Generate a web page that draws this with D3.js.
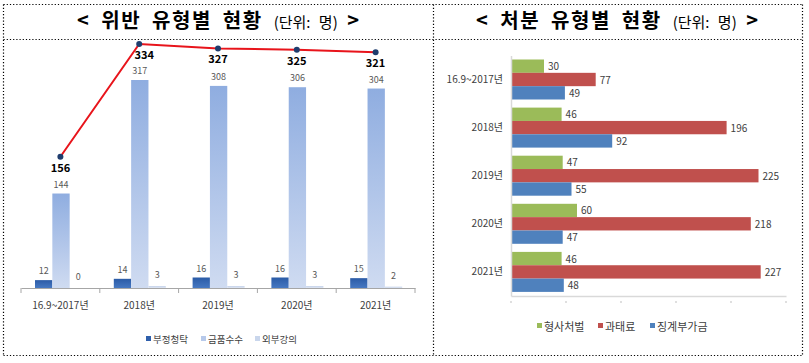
<!DOCTYPE html>
<html>
<head>
<meta charset="utf-8">
<script src="https://cdn.jsdelivr.net/npm/d3@7"></script>
<style>
	body { margin: 0; background: #fff; }
	text { font-family: "Noto Sans CJK KR", "Noto Sans", sans-serif; }
</style>
</head>
<body>
<svg id="chart" width="809" height="363"></svg>
<script>
// left chart: violations by type
const periods = ["16.9~2017년", "2018년", "2019년", "2020년", "2021년"];
const violationTypes = ["부정청탁", "금품수수", "외부강의"];
const solicit = [12, 14, 16, 16, 15];
const gifts = [144, 317, 308, 306, 304];
const lectures = [0, 3, 3, 3, 2];
const totals = [156, 334, 327, 325, 321];

// right chart: sanctions by type
const sanctionTypes = ["형사처벌", "과태료", "징계부가금"];
const criminal = [30, 46, 47, 60, 46];
const fines = [77, 196, 225, 218, 227];
const surcharge = [49, 92, 55, 47, 48];

const svg = d3.select("#chart");
const defs = svg.append("defs");

function grad(id, top, bottom) {
	let g = defs.append("linearGradient").attr("id", id)
		.attr("x1", 0).attr("y1", 0).attr("x2", 0).attr("y2", 1);
	g.append("stop").attr("offset", "0%").attr("stop-color", top);
	g.append("stop").attr("offset", "100%").attr("stop-color", bottom);
}
grad("g0", "#2b5ba6", "#4678c2");
grad("g1", "#8fade0", "#cfdbf1");
grad("g2", "#c3d1ea", "#dfe6f3");

// frame (dotted table lines)
const frame = svg.append("g").attr("stroke", "#000").attr("stroke-width", 1.2)
	.attr("stroke-dasharray", "1.2,2");
[[3.5, 4.5, 802.5, 4.5], [3.5, 39.5, 802.5, 39.5], [3.5, 355.5, 802.5, 355.5],
 [3.5, 4.5, 3.5, 355.5], [433.5, 4.5, 433.5, 355.5], [802.5, 4.5, 802.5, 355.5]]
	.forEach(l => frame.append("line").attr("x1", l[0]).attr("y1", l[1]).attr("x2", l[2]).attr("y2", l[3]));

function title(cx, main) {
	let t = svg.append("text").attr("x", cx).attr("y", 28).attr("text-anchor", "middle")
		.attr("fill", "#000").attr("word-spacing", 5);
	t.append("tspan").attr("font-size", 20).attr("font-weight", "bold")
		.attr("letter-spacing", 1.5).text("< " + main + " ");
	t.append("tspan").attr("font-size", 15).text("(단위: 명)");
	t.append("tspan").attr("font-size", 20).attr("font-weight", "bold").text(" >");
}
title(218, "위반 유형별 현황");
title(617, "처분 유형별 현황");

// ---- left chart ----
const x = d3.scaleBand().domain(periods).range([21, 415]);
const x1 = d3.scaleBand().domain(violationTypes).range([14, 66]);
const y = d3.scaleLinear().domain([0, 317]).range([288, 80]);
const yLine = d3.scaleLinear().domain([0, 340]).range([255.5, 40.2]);

const seriesL = [solicit, gifts, lectures];
const left = svg.append("g");

seriesL.forEach((vals, si) => {
	let g = left.append("g");
	g.selectAll("rect").data(vals).enter().append("rect")
		.attr("x", (d, i) => x(periods[i]) + x1(violationTypes[si]))
		.attr("width", x1.bandwidth())
		.attr("y", d => y(d))
		.attr("height", d => y(0) - y(d))
		.attr("fill", "url(#g" + si + ")");
	g.selectAll("text").data(vals).enter().append("text")
		.attr("x", (d, i) => x(periods[i]) + x1(violationTypes[si]) + x1.bandwidth() / 2)
		.attr("y", d => y(d) - (d < 10 ? 8 : 6))
		.attr("text-anchor", "middle").attr("font-size", 9).attr("fill", "#595959")
		.text(d => d);
});

// axis
const axisL = left.append("g").attr("transform", "translate(0,288)");
axisL.call(d3.axisBottom(x).tickSize(0).tickPadding(14));
axisL.select(".domain").attr("stroke", "#a6a6a6");
axisL.selectAll(".tick text").attr("font-size", 10).attr("fill", "#404040")
	.attr("font-family", "'Noto Sans CJK KR', sans-serif");
const bounds = periods.map(p => x(p)).concat([x.range()[1]]);
axisL.selectAll(".bt").data(bounds).enter().append("line")
	.attr("x1", d => d).attr("x2", d => d).attr("y1", 0).attr("y2", 5)
	.attr("stroke", "#a6a6a6");

// total line
const cx = (d, i) => x(periods[i]) + x.bandwidth() / 2;
const line = d3.line().x(cx).y(d => yLine(d));
left.append("path").datum(totals).attr("d", line)
	.attr("fill", "none").attr("stroke", "#e8141b").attr("stroke-width", 2);
left.selectAll(".dot").data(totals).enter().append("circle")
	.attr("cx", cx).attr("cy", d => yLine(d)).attr("r", 3).attr("fill", "#1f3d6e");
left.selectAll(".tot").data(totals).enter().append("text")
	.attr("x", (d, i) => cx(d, i) + (i == 1 ? 5 : 0)).attr("y", d => yLine(d) + 15)
	.attr("text-anchor", "middle").attr("font-size", 11).attr("font-weight", "bold")
	.attr("fill", "#000").text(d => d);

// legend
const legL = [[146, "부정청탁"], [201, "금품수수"], [255, "외부강의"]];
legL.forEach((l, i) => {
	svg.append("rect").attr("x", l[0]).attr("y", 336).attr("width", 5).attr("height", 5)
		.attr("fill", ["#2f5fab", "#b7c9ea", "#c9d6ec"][i]);
	svg.append("text").attr("x", l[0] + 7).attr("y", 343).attr("font-size", 9.5)
		.attr("fill", "#404040").text(l[1]);
});

// ---- right chart ----
const yb = d3.scaleBand().domain(periods).range([55.5, 296]);
const y1 = d3.scaleBand().domain(sanctionTypes).range([4, 44]);
const xr = d3.scaleLinear().domain([0, 250]).range([511, 786]);
const colors = ["#9bbb59", "#c0504d", "#4f81bd"];
const seriesR = [criminal, fines, surcharge];
const right = svg.append("g");

seriesR.forEach((vals, si) => {
	let g = right.append("g");
	g.selectAll("rect").data(vals).enter().append("rect")
		.attr("x", xr(0))
		.attr("y", (d, i) => yb(periods[i]) + y1(sanctionTypes[si]))
		.attr("width", d => xr(d) - xr(0))
		.attr("height", y1.bandwidth())
		.attr("fill", colors[si]);
	g.selectAll("text").data(vals).enter().append("text")
		.attr("x", d => xr(d) + 4)
		.attr("y", (d, i) => yb(periods[i]) + y1(sanctionTypes[si]) + y1.bandwidth() / 2 + 4)
		.attr("font-size", 10).attr("fill", "#404040").text(d => d);
});

const axisY = right.append("g").attr("transform", "translate(511,0)")
	.call(d3.axisLeft(yb).tickSize(0).tickPadding(8));
axisY.select(".domain").attr("stroke", "#d9d9d9").attr("stroke-width", 1.5);
axisY.selectAll(".tick text").attr("font-size", 10).attr("fill", "#404040")
	.attr("font-family", "'Noto Sans CJK KR', sans-serif");

const axisX = right.append("g").attr("transform", "translate(0,296)")
	.call(d3.axisBottom(xr).ticks(5).tickSize(0).tickFormat(""));
axisX.select(".domain").attr("stroke", "#d9d9d9").attr("stroke-width", 1.5);
axisX.selectAll(".tk").data(xr.ticks(5)).enter().append("line")
	.attr("x1", d => xr(d)).attr("x2", d => xr(d)).attr("y1", 5).attr("y2", 7)
	.attr("stroke", "#bfbfbf");

const legR = [[537, "형사처벌"], [598, "과태료"], [650, "징계부가금"]];
legR.forEach((l, i) => {
	svg.append("rect").attr("x", l[0]).attr("y", 323).attr("width", 5).attr("height", 5)
		.attr("fill", colors[i]);
	svg.append("text").attr("x", l[0] + 7).attr("y", 331).attr("font-size", 11)
		.attr("fill", "#404040").text(l[1]);
});
</script>
</body>
</html>
